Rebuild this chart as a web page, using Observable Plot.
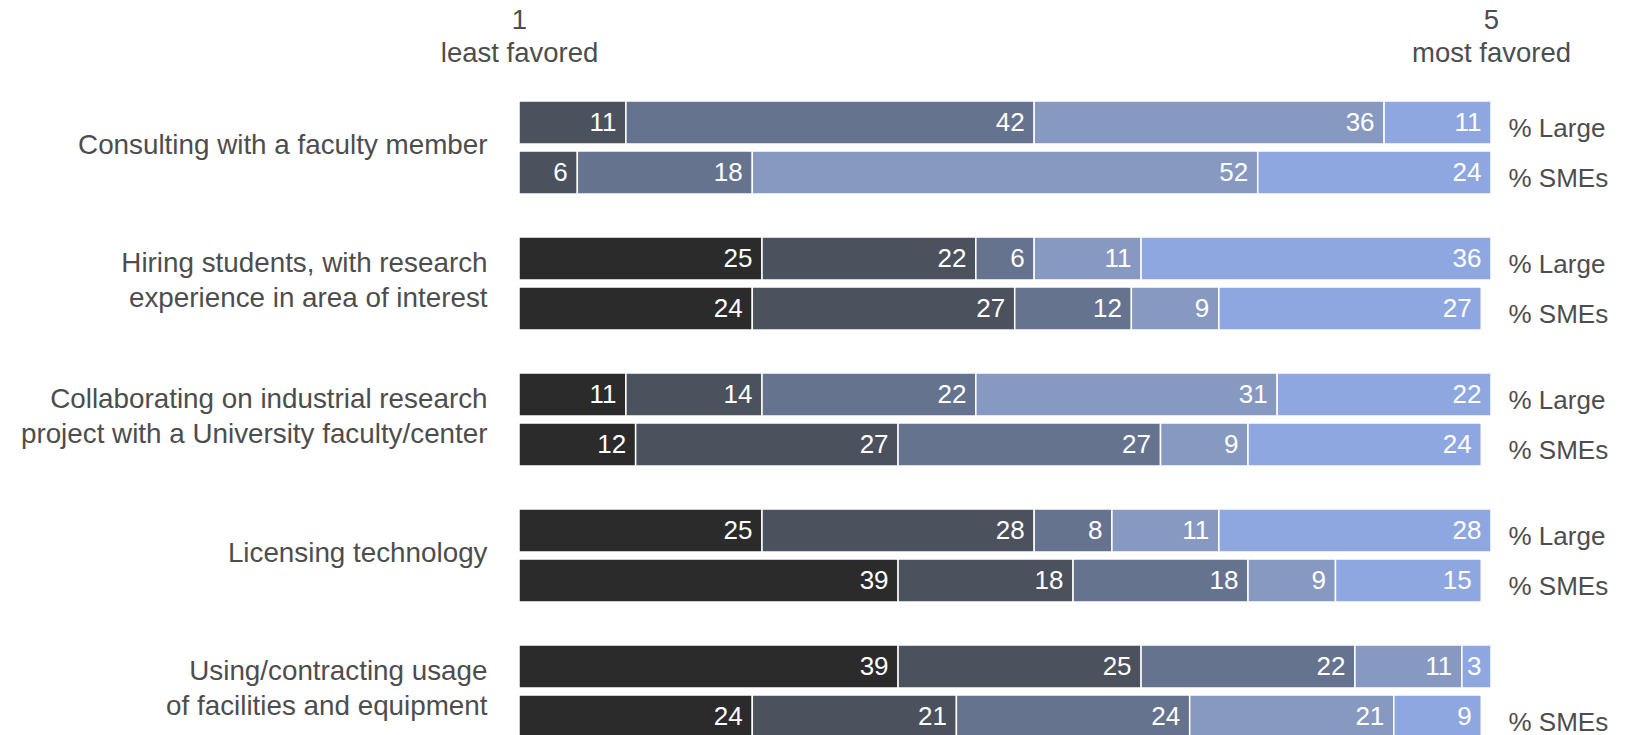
<!DOCTYPE html>
<html>
<head>
<meta charset="utf-8">
<script src="https://cdn.jsdelivr.net/npm/d3@7"></script>
<script src="https://cdn.jsdelivr.net/npm/@observablehq/plot@0.6"></script>
<style>
  html, body { margin: 0; padding: 0; background: #fff; overflow: hidden; }
  #chart svg { display: block; }
</style>
</head>
<body>
<div id="chart"></div>
<script>
// ---- data ----
const groups = [
  "Consulting with a faculty member",
  "Hiring students, with research\nexperience in area of interest",
  "Collaborating on industrial research\nproject with a University faculty/center",
  "Licensing technology",
  "Using/contracting usage\nof facilities and equipment"
];
const sizes = ["Large", "SMEs"];
const levels = [1, 2, 3, 4, 5];
const largeValues = [
  [0, 11, 42, 36, 11],
  [25, 22, 6, 11, 36],
  [11, 14, 22, 31, 22],
  [25, 28, 8, 11, 28],
  [39, 25, 22, 11, 3]
];
const smeValues = [
  [0, 6, 18, 52, 24],
  [24, 27, 12, 9, 27],
  [12, 27, 27, 9, 24],
  [39, 18, 18, 9, 15],
  [24, 21, 24, 21, 9]
];
// which row labels are shown on the right (the last "% Large" is absent in the reference)
const showLarge = [true, true, true, true, false];
const showSmes = [true, true, true, true, true];
const headerTicks = [0, 100];
const headerLabels = ["1\nleast favored", "5\nmost favored"];
const colors = ["#2b2b2b", "#4b515d", "#66738f", "#8799c1", "#8fa7e0"];

// ---- tidy table ----
const data = [];
groups.forEach((g, gi) => {
  [largeValues[gi], smeValues[gi]].forEach((vals, si) => {
    vals.forEach((v, li) => data.push({group: g, size: sizes[si], level: levels[li], value: v}));
  });
});
const rowLabels = [];
groups.forEach((g, gi) => {
  if (showLarge[gi]) rowLabels.push({group: g, size: "Large", label: "% Large"});
  if (showSmes[gi]) rowLabels.push({group: g, size: "SMEs", label: "% SMEs"});
});

const font = "'Liberation Sans', Arial, Helvetica, sans-serif";
const labelColor = "#4d4d4d";

const chart = Plot.plot({
  width: 1634,
  height: 738,
  marginTop: 100,
  marginBottom: 0,
  marginLeft: 519,
  marginRight: 143,
  style: {fontFamily: font, background: "#fff"},
  x: {domain: [0, 100]},
  y: {domain: sizes, paddingInner: 0.14, paddingOuter: 0, axis: null},
  fy: {domain: groups, paddingInner: 0.31, paddingOuter: 0},
  color: {domain: levels, range: colors},
  marks: [
    Plot.barX(data, Plot.stackX({
      x: "value", y: "size", fy: "group", fill: "level",
      stroke: "#fff", strokeWidth: 1.5
    })),
    Plot.text(data, Plot.stackX2({
      x: "value", y: "size", fy: "group",
      text: d => d.value > 0 ? String(d.value) : null,
      textAnchor: "end", dx: -10, fill: "#fff",
      fontSize: 26, fontFamily: font
    })),
    Plot.text(rowLabels, {
      fy: "group", y: "size", text: "label",
      frameAnchor: "right", textAnchor: "start", dx: 17, dy: 6,
      fill: labelColor, fontSize: 26, fontFamily: font
    }),
    Plot.axisFy({
      anchor: "left", tickSize: 0, tickPadding: 32, label: null,
      fontSize: 27.8, lineHeight: 1.26, dy: -5, color: labelColor, fontFamily: font
    }),
    Plot.axisX({
      anchor: "top", ticks: headerTicks, tickSize: 0, tickPadding: 38, label: null,
      tickFormat: d => headerLabels[headerTicks.indexOf(d)],
      fontSize: 27.5, lineHeight: 1.2, dy: -1, color: labelColor, fontFamily: font
    })
  ]
});
document.getElementById("chart").appendChild(chart);
</script>
</body>
</html>
